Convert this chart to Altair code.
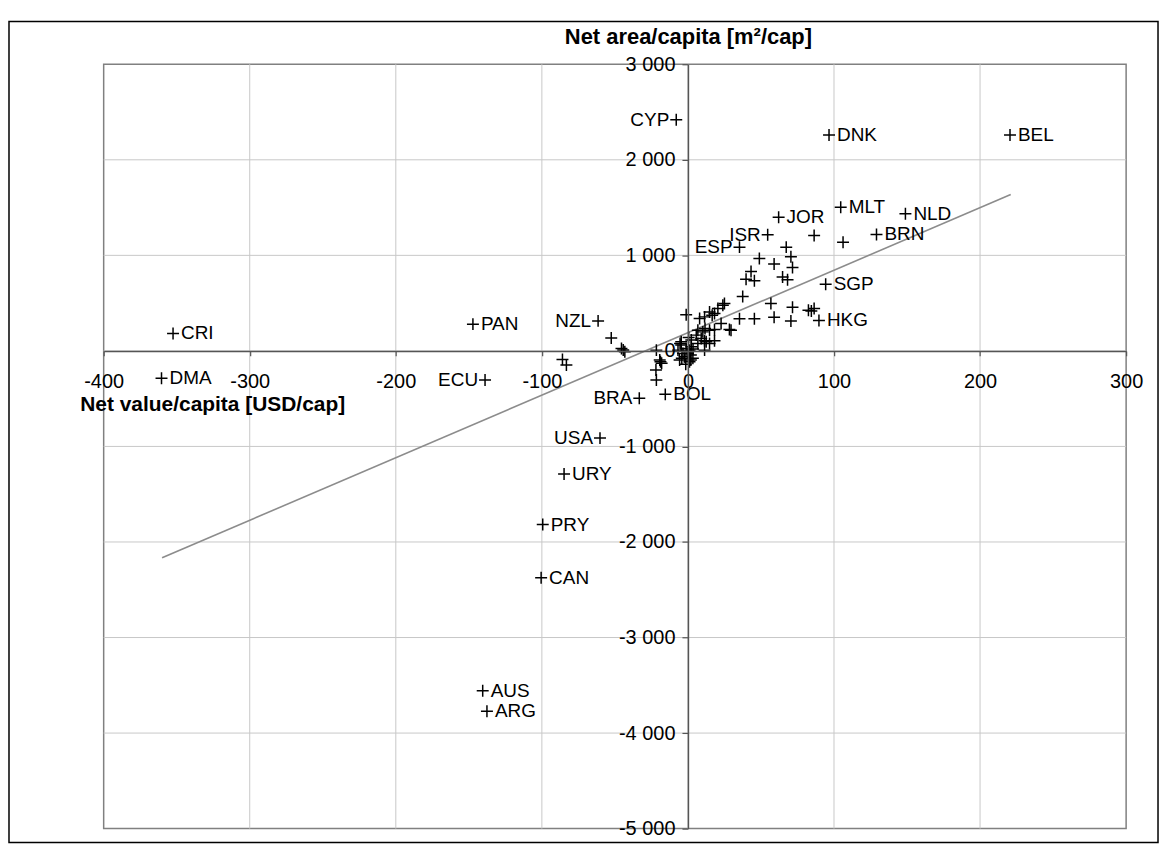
import altair as alt
import pandas as pd

# ---- data ----
x_ticks = [-400, -300, -200, -100, 0, 100, 200, 300]
y_ticks = [-5000, -4000, -3000, -2000, -1000, 0, 1000, 2000, 3000]

lab_codes = ["CYP", "DNK", "BEL", "MLT", "NLD", "BRN", "JOR", "ISR", "ESP", "SGP", "HKG",
             "NZL", "CRI", "PAN", "DMA", "ECU", "BRA", "BOL", "USA", "URY", "PRY", "CAN",
             "AUS", "ARG"]
lab_x = [-8, 96.6, 220.5, 104.6, 148.9, 129.1, 62.1, 54.6, 35.3, 94.3, 89.7,
         -61.5, -352.5, -147.2, -360.4, -138.9, -33.3, -15.5, -60.2, -84.8, -99.4, -100.5,
         -140.5, -137.6]
lab_y = [2420, 2259, 2259, 1504, 1435, 1219, 1399, 1215, 1086, 697, 318,
         314, 183, 280, -287, -305, -496, -455, -913, -1289, -1818, -2374,
         -3557, -3772]
lab_side = ["left", "right", "right", "right", "right", "right", "right", "left", "left", "right", "right",
            "left", "right", "right", "right", "left", "left", "right", "left", "right", "right", "right",
            "right", "right"]

pt_x = [-1.2, 8, 11.4, 14.8, 18.2, 20.5, 25, 22.7, 29.5, 35.3, 45.5, 56.8, 59, 70.5, 71.6,
        82.5, 86.4, 84.5, 37.5, 39.8, 45.5, 43.2, 48.9, 59, 67.3, 70.5, 71.6, 64.8, 68.2,
        86.4, 106.2, 28.4, 18.2, 6.8, 14.8, 18.2, 11.4, 2.3, 11.7, 23.9, 16.6,
        -52.5, -45.5, -43.2, -44.3, -85.9, -83.2, -21.6, -19.3, -18, -21.9, -21.6, -18.8,
        -1.2, 1.1, 2.3, 0, -2.3, 3.4, 1.1, 6.8, 9.1, 11.4, 14.8, 12.5, 5.7, 10.2,
        -4.6, -5.7, -4.6, -6.8, -3.4, 2, 2, -5.4, -4.2, 0.5, 3.5, -1.5]
pt_y = [378, 339, 356, 408, 391, 443, 495, 287, 217, 336, 336, 497, 353, 312, 457,
        426, 443, 418, 570, 749, 734, 831, 968, 910, 1086, 985, 872, 773, 744,
        1208, 1138, 224, 224, 217, 217, 105, 105, 113, 235, 478, 374,
        135, 26, -9, 10, -89, -148, 8, -96, -130, -200, -305, -114,
        26, 8, 43, -26, -62, -78, -114, 78, 130, 8, 78, 95, 165, 199,
        95, -96, 61, 8, -26, -44, -96, 78, -78, 140, 20, -140]

trend_x = [-360, 221]
trend_y = [-2165, 1636]

W, H = 1026, 767
FONT = "Liberation Sans"

labels = pd.DataFrame({"code": lab_codes, "x": lab_x, "y": lab_y, "side": lab_side})
points = pd.DataFrame({"x": pt_x + lab_x, "y": pt_y + lab_y})
trend = pd.DataFrame({"x": trend_x, "y": trend_y})
xgrid = pd.DataFrame({"x": [v for v in x_ticks if v not in (-400, 300)]})
ygrid = pd.DataFrame({"y": [v for v in y_ticks if v not in (-5000, 3000)]})

xs = alt.Scale(domain=[-400, 300], nice=False, zero=False)
ys = alt.Scale(domain=[-5000, 3000], nice=False, zero=False)

x_off = -H * 5000 / 8000
y_off = -W * 400 / 700

x_axis = alt.Axis(
    values=x_ticks, offset=x_off, grid=False,
    domainColor="#555555", domainWidth=1.5, tickColor="#555555", tickWidth=1.2, tickSize=5,
    labelFont=FONT, labelFontSize=20, labelColor="black", labelPadding=16,
    labelFlush=False, labelOverlap=False, labelBound=False,
    labelExpr="(datum.value < 0 ? '-' : '') + format(abs(datum.value), 'd')",
    title="Net value/capita [USD/cap]", titleFont=FONT, titleFontSize=21, titleFontWeight="bold",
    titleColor="black", titleAlign="left", titleBaseline="alphabetic", titleX=-24, titleY=60,
    zindex=1,
)
y_axis = alt.Axis(
    values=y_ticks, offset=y_off, grid=False,
    domainColor="#555555", domainWidth=1.5, tickColor="#555555", tickWidth=1.2, tickSize=6,
    labelFont=FONT, labelFontSize=20, labelColor="black", labelPadding=7,
    labelFlush=False, labelOverlap=False, labelBound=False,
    labelExpr="(datum.value < 0 ? '-' : '') + replace(format(abs(datum.value), ','), ',', ' ')",
    title="Net area/capita [m²/cap]", titleFont=FONT, titleFontSize=22, titleFontWeight="bold",
    titleColor="black", titleAngle=0, titleAlign="center", titleBaseline="alphabetic",
    titleX=0, titleY=-21, zindex=1,
)

X = alt.X("x:Q", scale=xs, axis=x_axis)
Y = alt.Y("y:Q", scale=ys, axis=y_axis)

vgrid = alt.Chart(xgrid).mark_rule(color="#c8c8c8", strokeWidth=1).encode(x=X)
hgrid = alt.Chart(ygrid).mark_rule(color="#c8c8c8", strokeWidth=1).encode(y=Y)

pts = alt.Chart(points).mark_point(
    shape="M-1,0H1M0,-1V1", size=144, filled=False, stroke="black", strokeWidth=1.5, opacity=1
).encode(x=X, y=Y)

line = alt.Chart(trend).mark_line(color="#8c8c8c", strokeWidth=1.6).encode(x=X, y=Y)

txt_r = alt.Chart(labels).transform_filter(alt.datum.side == "right").mark_text(
    align="left", baseline="middle", dx=8, font=FONT, fontSize=19, color="black"
).encode(x=X, y=Y, text="code:N")
txt_l = alt.Chart(labels).transform_filter(alt.datum.side == "left").mark_text(
    align="right", baseline="middle", dx=-7, font=FONT, fontSize=19, color="black"
).encode(x=X, y=Y, text="code:N")

frame = alt.Chart(pd.DataFrame({"a": [0]})).mark_rect(
    fillOpacity=0, stroke="black", strokeWidth=1.5
).encode(x=alt.value(-95), x2=alt.value(1058), y=alt.value(-43), y2=alt.value(781))

chart = alt.layer(vgrid, hgrid, line, pts, txt_r, txt_l, frame).properties(
    width=W, height=H,
    autosize=alt.AutoSizeParams(type="none"),
    padding={"left": 96, "top": 55, "right": 36, "bottom": 16},
    background="white",
).configure_view(stroke="#808080", strokeWidth=1.5)

chart.save("out.html", embed_options={"renderer": "svg", "actions": False})
